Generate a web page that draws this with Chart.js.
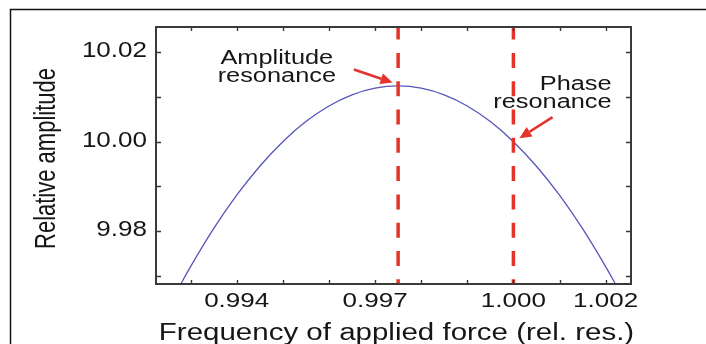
<!DOCTYPE html>
<html>
<head>
<meta charset="utf-8">
<script src="https://cdn.jsdelivr.net/npm/chart.js@4.4.0/dist/chart.umd.min.js"></script>
<style>
  html, body { margin: 0; padding: 0; background: #fff; }
  #wrap { width: 706px; height: 344px; }
</style>
</head>
<body>
<div id="wrap"><canvas id="resonanceChart"></canvas></div>
<script>
// curve: frequency (rel. res.) vs relative amplitude
const freqValues = [0.99275, 0.993, 0.9935, 0.994, 0.9945, 0.995, 0.9955, 0.996, 0.9965, 0.997, 0.9975,
                    0.998, 0.9985, 0.999, 0.9995, 1.000, 1.0005, 1.001, 1.0015, 1.002, 1.00225];
const ampValues = [9.9674, 9.972, 9.9805, 9.988, 9.9945, 10.000, 10.0045, 10.008, 10.0105, 10.012, 10.0125,
                   10.012, 10.0105, 10.008, 10.0045, 10.000, 9.9945, 9.988, 9.9805, 9.972, 9.9674];

// dashed markers
const amplitudeResonance = 0.9975;
const phaseResonance = 1.000;

// axes
const xRange = [0.99225, 1.00255];
const yRange = [9.9681, 10.0257];
const xTicks = [0.993, 0.994, 0.995, 0.996, 0.997, 0.998, 0.999, 1.000, 1.001, 1.002];
const xTickLabels = ['', '0.994', '', '', '0.997', '', '', '1.000', '', '1.002'];
const yTicks = [9.97, 9.98, 9.99, 10.00, 10.01, 10.02];
const yTickLabels = ['', '9.98', '', '10.00', '', '10.02'];

const xTitle = 'Frequency of applied force (rel. res.)';
const yTitle = 'Relative amplitude';

// callouts (anchor in data units)
const noteLines = [['Amplitude', 'resonance'], ['Phase', 'resonance']];
const noteAnchors = [[0.99487, 10.01751], [1.00213, 10.01169]];
const noteAlign = ['center', 'right'];
const arrowFrom = [[0.99654, 10.01616], [1.00085, 10.00549]];
const arrowTo = [[0.99738, 10.01325], [1.00013, 10.00078]];

const FONT = '"Liberation Sans", Arial, sans-serif';
const RED = '#e3342b';

function stretchText(ctx, text, x, y, size, sx, align, baseline, rotate) {
    ctx.save();
    ctx.translate(x, y);
    ctx.scale(sx, 1);
    if (rotate) ctx.rotate(-Math.PI / 2);
    ctx.font = size + 'px ' + FONT;
    ctx.textAlign = align;
    ctx.textBaseline = baseline;
    ctx.fillStyle = '#161616';
    ctx.fillText(text, 0, 0);
    ctx.restore();
}

function drawArrow(ctx, x1, y1, x2, y2) {
    const ang = Math.atan2(y2 - y1, x2 - x1);
    const headLen = 12, headHalf = 5.5;
    const bx = x2 - headLen * Math.cos(ang), by = y2 - headLen * Math.sin(ang);
    ctx.save();
    ctx.strokeStyle = RED;
    ctx.fillStyle = RED;
    ctx.lineWidth = 2.6;
    ctx.beginPath();
    ctx.moveTo(x1, y1);
    ctx.lineTo(bx, by);
    ctx.stroke();
    ctx.beginPath();
    ctx.moveTo(x2, y2);
    ctx.lineTo(bx + headHalf * Math.sin(ang), by - headHalf * Math.cos(ang));
    ctx.lineTo(bx - headHalf * Math.sin(ang), by + headHalf * Math.cos(ang));
    ctx.closePath();
    ctx.fill();
    ctx.restore();
}

const figurePlugin = {
    id: 'figure',
    beforeDraw(chart) {
        const ctx = chart.ctx;
        ctx.save();
        ctx.fillStyle = '#fff';
        ctx.fillRect(0, 0, chart.width, chart.height);
        // outer panel border (top and left only are visible)
        ctx.strokeStyle = '#111';
        ctx.lineWidth = 1.5;
        ctx.beginPath();
        ctx.moveTo(10.5, chart.height);
        ctx.lineTo(10.5, 9.5);
        ctx.lineTo(chart.width, 9.5);
        ctx.stroke();
        ctx.restore();
    },
    afterDatasetsDraw(chart) {
        const ctx = chart.ctx;
        const xs = chart.scales.x, ys = chart.scales.y;
        const a = chart.chartArea;

        ctx.save();
        // plot box
        ctx.strokeStyle = '#3a3a3a';
        ctx.lineWidth = 2;
        ctx.strokeRect(a.left, a.top, a.right - a.left, a.bottom - a.top);

        // inward ticks on all four sides
        ctx.lineWidth = 1.4;
        ctx.beginPath();
        xTicks.forEach(v => {
            const px = Math.round(xs.getPixelForValue(v)) + 0.5;
            ctx.moveTo(px, a.bottom); ctx.lineTo(px, a.bottom - 4);
            ctx.moveTo(px, a.top); ctx.lineTo(px, a.top + 4);
        });
        yTicks.forEach(v => {
            const py = Math.round(ys.getPixelForValue(v)) + 0.5;
            ctx.moveTo(a.left, py); ctx.lineTo(a.left + 5, py);
            ctx.moveTo(a.right, py); ctx.lineTo(a.right - 5, py);
        });
        ctx.stroke();
        ctx.restore();

        // tick labels
        xTicks.forEach((v, i) => {
            if (xTickLabels[i]) {
                stretchText(ctx, xTickLabels[i], xs.getPixelForValue(v), a.bottom + 22.5, 20.5, 1.27, 'center', 'alphabetic');
            }
        });
        yTicks.forEach((v, i) => {
            if (yTickLabels[i]) {
                stretchText(ctx, yTickLabels[i], a.left - 9, ys.getPixelForValue(v) - 1, 21.5, 1.21, 'right', 'middle');
            }
        });

        // axis titles
        stretchText(ctx, xTitle, (a.left + a.right) / 2 + 3, 339.5, 23.5, 1.255, 'center', 'alphabetic');
        stretchText(ctx, yTitle, 47, (a.top + a.bottom) / 2 + 3, 22, 1.3, 'center', 'middle', true);

        // callouts
        noteLines.forEach((lines, i) => {
            const px = xs.getPixelForValue(noteAnchors[i][0]);
            const py = ys.getPixelForValue(noteAnchors[i][1]);
            lines.forEach((t, j) => {
                stretchText(ctx, t, px, py + j * 18.7, 19.5, 1.3, noteAlign[i], 'alphabetic');
            });
        });
        arrowFrom.forEach((f, i) => {
            drawArrow(ctx,
                xs.getPixelForValue(f[0]), ys.getPixelForValue(f[1]),
                xs.getPixelForValue(arrowTo[i][0]), ys.getPixelForValue(arrowTo[i][1]));
        });
    }
};

function markerLine(xValue) {
    return {
        data: [{ x: xValue, y: yRange[1] }, { x: xValue, y: yRange[0] }],
        borderColor: RED,
        borderWidth: 3.5,
        borderDash: [15, 13.3],
        borderDashOffset: 2.4,
        pointRadius: 0,
        order: 0
    };
}

const ctx = document.getElementById('resonanceChart').getContext('2d');
const resonanceChart = new Chart(ctx, {
    type: 'line',
    data: {
        datasets: [
            markerLine(amplitudeResonance),
            markerLine(phaseResonance),
            {
                data: freqValues.map((f, i) => ({ x: f, y: ampValues[i] })),
                borderColor: '#5656b8',
                borderWidth: 1.3,
                pointRadius: 0,
                cubicInterpolationMode: 'monotone',
                order: 1
            }
        ]
    },
    options: {
        responsive: true,
        maintainAspectRatio: false,
        animation: false,
        layout: {
            padding: { left: 156, top: 27, right: 75, bottom: 60 }
        },
        plugins: {
            legend: { display: false },
            tooltip: { enabled: false }
        },
        scales: {
            x: { type: 'linear', min: xRange[0], max: xRange[1], display: false },
            y: { type: 'linear', min: yRange[0], max: yRange[1], display: false }
        }
    },
    plugins: [figurePlugin]
});
</script>
</body>
</html>
